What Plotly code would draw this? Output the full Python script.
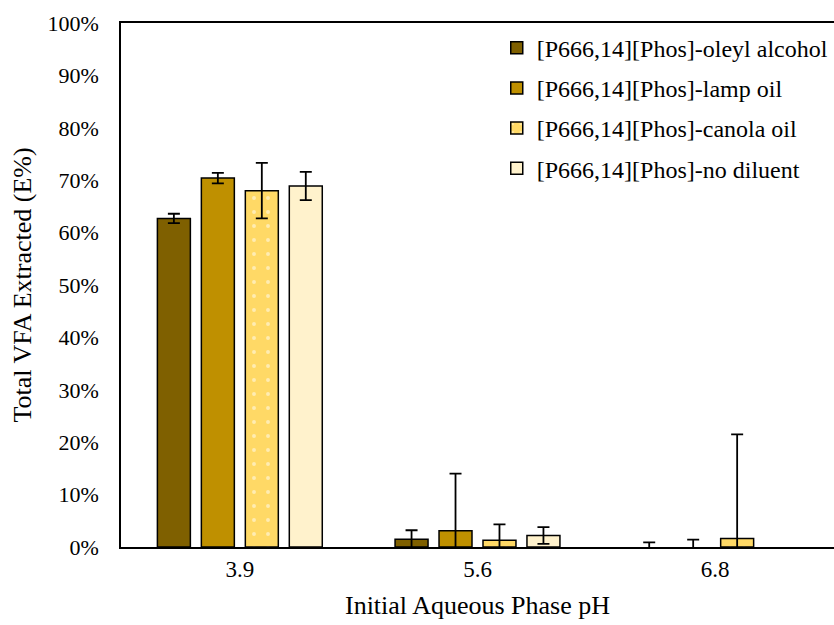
import plotly.graph_objects as go

categories = ["3.9", "5.6", "6.8"]
series_names = [
    "[P666,14][Phos]-oleyl alcohol",
    "[P666,14][Phos]-lamp oil",
    "[P666,14][Phos]-canola oil",
    "[P666,14][Phos]-no diluent",
]
oleyl = [62.7, 1.5, 0.0]
oleyl_err = [0.9, 1.7, 0.9]
lamp = [70.4, 3.1, 0.0]
lamp_err = [1.0, 10.9, 1.4]
canola = [68.0, 1.3, 1.6]
canola_err = [5.3, 3.0, 19.9]
nodil = [68.9, 2.2, None]
nodil_err = [2.7, 1.6, 0.0]
tick_vals = [0, 10, 20, 30, 40, 50, 60, 70, 80, 90, 100]
tick_text = [f"{v}%" for v in tick_vals]

FONT = "Liberation Serif, Times New Roman, serif"
colors = ["#7F6000", "#BF9000", "#FFD966", "#FFF2CC"]
values = [oleyl, lamp, canola, nodil]
errors = [oleyl_err, lamp_err, canola_err, nodil_err]

fig = go.Figure()
for i, (name, vals, errs, col) in enumerate(zip(series_names, values, errors, colors)):
    marker = dict(color=col, line=dict(color="black", width=[1.5 if (v or 0) > 0 else 0 for v in vals]))
    if i == 2:
        marker["pattern"] = dict(shape=".", fgcolor="white", bgcolor=col, size=14, solidity=0.06)
    fig.add_trace(go.Bar(
        x=categories, y=vals, name=name, marker=marker, legendgroup=f"g{i}",
        error_y=dict(type="data", array=errs, visible=True, color="black", thickness=1.8, width=6),
    ))

fig.update_layout(
    width=834, height=625,
    margin=dict(l=121, r=0, t=23, b=78),
    paper_bgcolor="white", plot_bgcolor="white",
    barmode="group", bargap=0.26, bargroupgap=0.25,
    font=dict(family=FONT, color="black", size=22),
    legend=dict(x=0.527, y=0.995, xanchor="left", yanchor="top", traceorder="grouped",
                tracegroupgap=6, font=dict(family=FONT, size=24, color="black"),
                bgcolor="rgba(0,0,0,0)", itemwidth=30),
    showlegend=True,
)
fig.update_xaxes(
    showline=True, linecolor="black", linewidth=2, mirror=True,
    ticks="", tickfont=dict(family=FONT, size=23, color="black"),
    title=dict(text="Initial Aqueous Phase pH", font=dict(family=FONT, size=26, color="black"), standoff=15),
)
fig.update_yaxes(
    range=[0, 100], tickvals=tick_vals, ticktext=tick_text,
    showline=True, linecolor="black", linewidth=1.5, showgrid=False, zeroline=False,
    ticks="", ticklabelstandoff=16, tickfont=dict(family=FONT, size=22, color="black"),
    title=dict(text="Total VFA Extracted (E%)", font=dict(family=FONT, size=26, color="black"), standoff=8),
)
fig.write_html("out.html")
